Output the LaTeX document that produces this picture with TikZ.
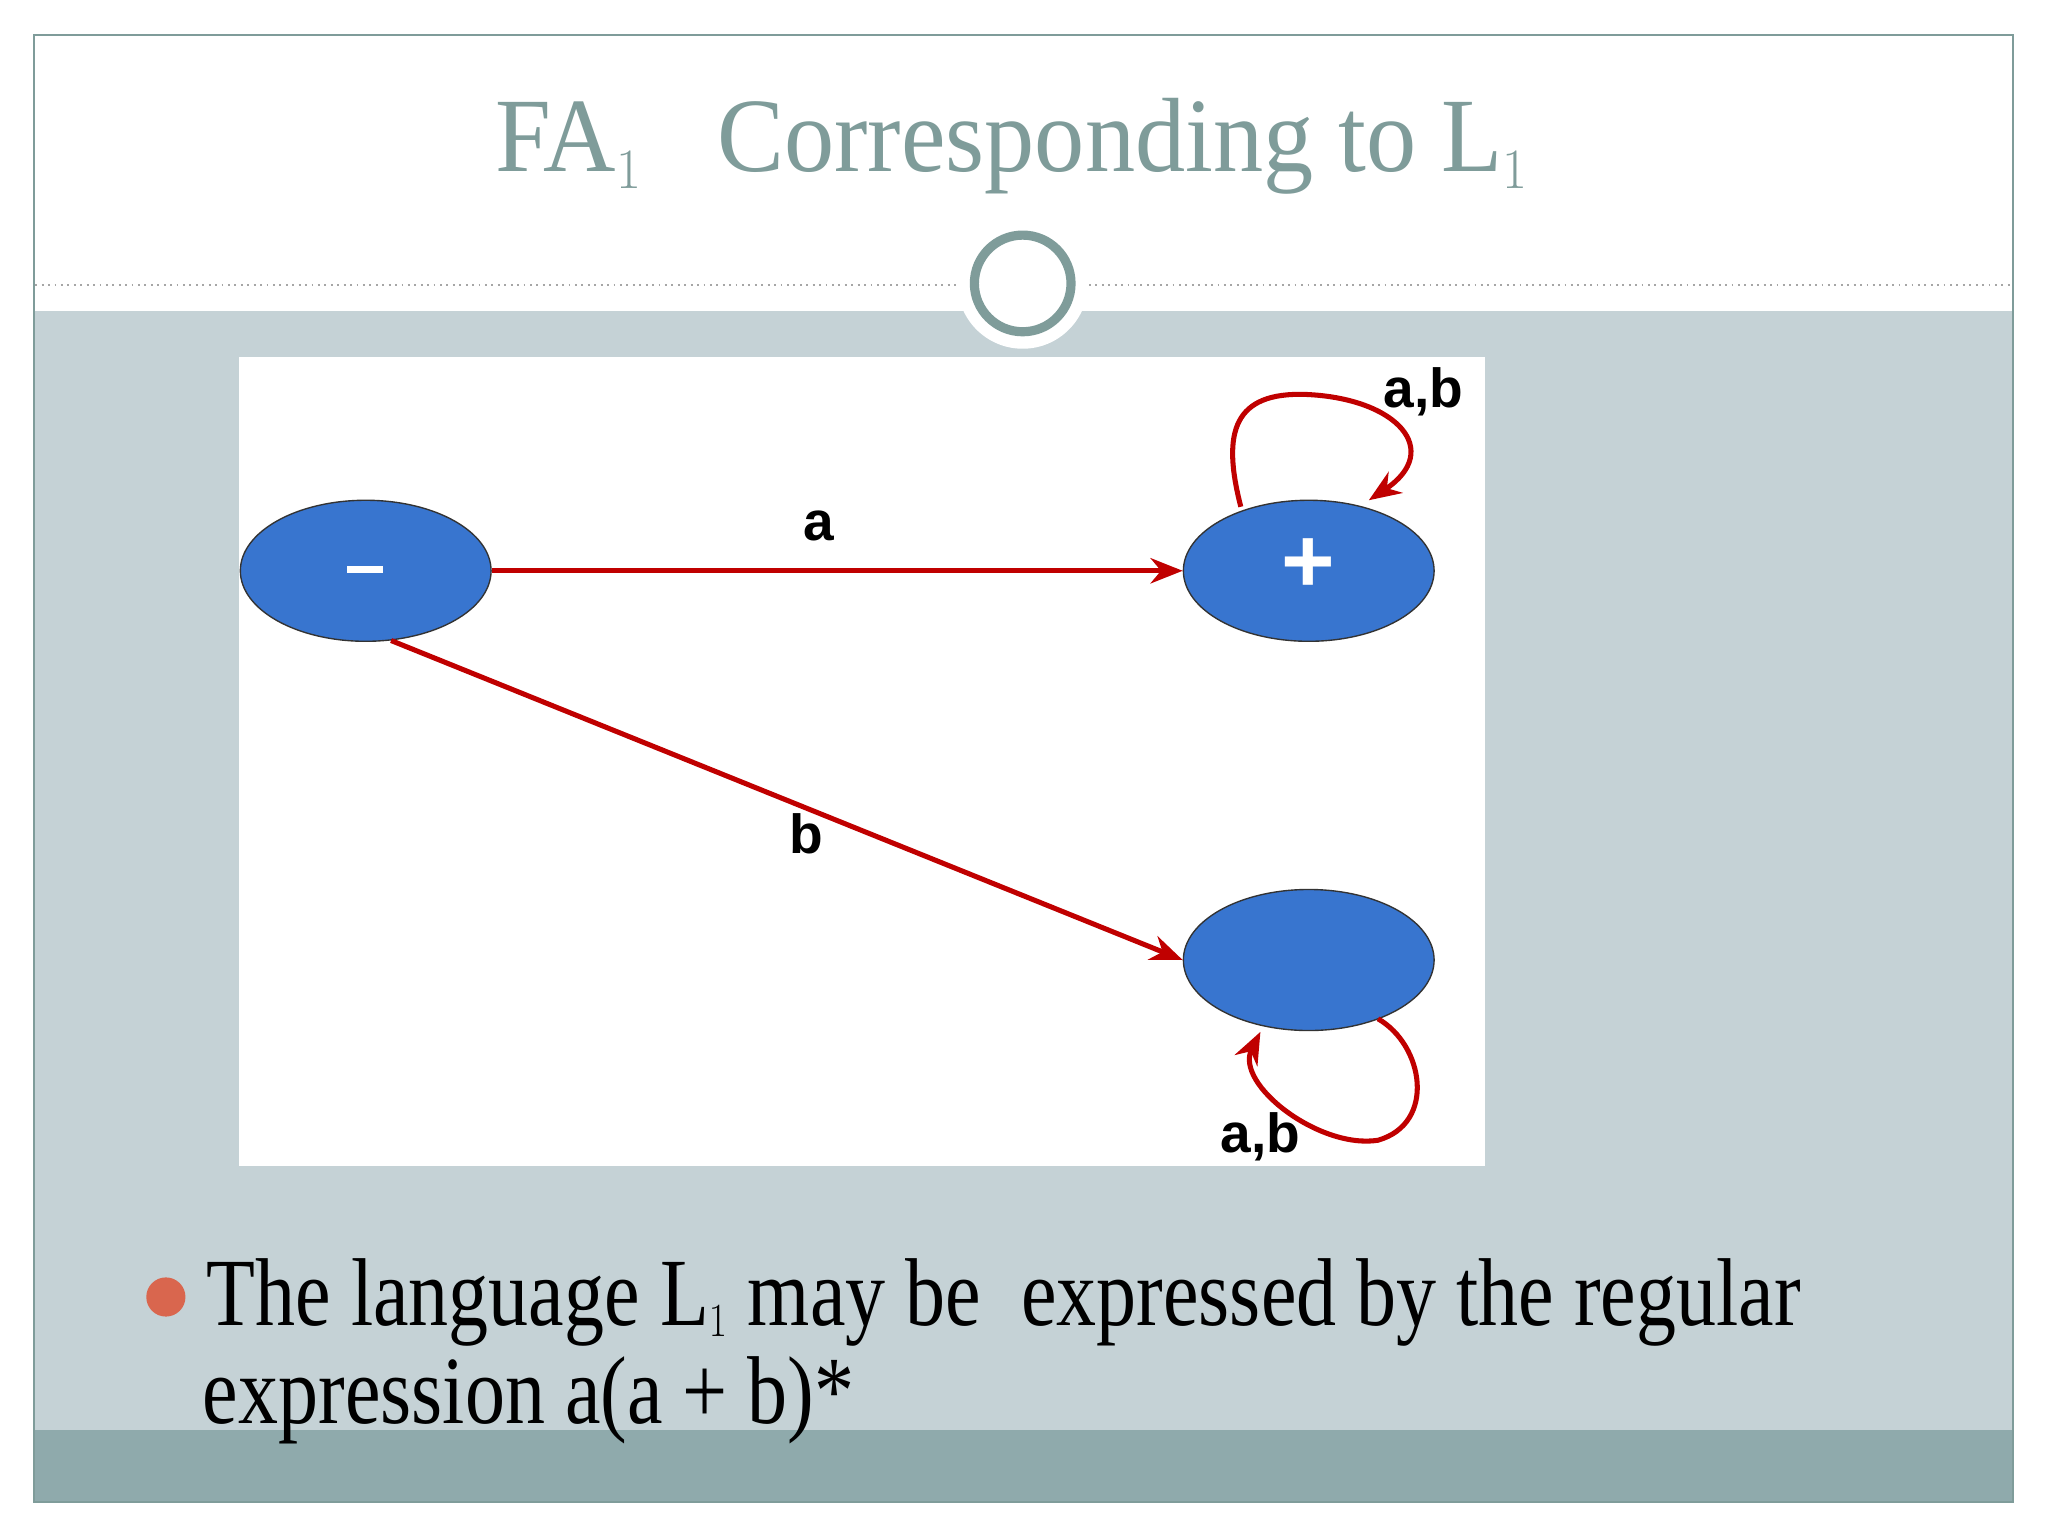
\documentclass[tikz,border=0pt]{standalone}
\usepackage{fontspec}
\setmainfont{Liberation Serif}
\newfontfamily\lblfont{Liberation Sans}
\usetikzlibrary{arrows.meta,shapes.geometric}
\definecolor{frame}{HTML}{7F9C9A}
\definecolor{panel}{HTML}{C5D2D6}
\definecolor{band}{HTML}{8FAAAC}
\definecolor{stblue}{HTML}{3875CF}
\definecolor{edgered}{HTML}{C00000}
\definecolor{bul}{HTML}{D9664E}
\tikzset{
 state/.style={ellipse, draw=black!80, line width=0.6pt, fill=stblue, minimum width=3.84cm, minimum height=2.16cm, inner sep=0pt},
 edge/.style={draw=edgered, line width=2.2pt, -{Stealth[length=14pt,width=11pt]}},
 lbl/.style={font=\lblfont\bfseries\fontsize{24}{26}\selectfont, inner sep=0pt},
 body/.style={anchor=base west, inner sep=0pt, font=\fontsize{42}{46}\selectfont},
}
\begin{document}
\begin{tikzpicture}[x=0.02cm,y=-0.02cm]
\useasboundingbox (0,0) rectangle (1568,1176);
\fill[white] (0,0) rectangle (1568,1176);
\fill[panel] (27,238) rectangle (1541,1095);
\fill[band] (27,1095) rectangle (1541,1150);
\draw[frame, line width=1pt] (26,27) rectangle (1541,1150);
\draw[gray!70, dotted, line width=0.8pt] (27,218) -- (1540,218);
\fill[white] (783,217) circle (50);
\draw[frame, line width=4pt, fill=white] (783,217) circle (37);
\node (title) [text=frame, font=\fontsize{46}{50}\selectfont, inner sep=0pt] at (775,112) {\scalebox{0.95}[1]{FA$_{\scriptscriptstyle 1}$\hspace{0.5em} Corresponding to L$_{\scriptscriptstyle 1}$}};
\fill[white] (183,273) rectangle (1137,893);
\node (s0) [state] at (280,437) {};
\node (s1) [state] at (1002,437) {};
\node (s2) [state] at (1002,735) {};
\fill[white] (266,433) rectangle (293,439);
\node [text=white, font=\lblfont\bfseries\fontsize{40}{42}\selectfont] at (1002,433) {+};
\draw[edge] (s0.east) -- (s1.west);
\node[lbl] at (627,403) {a};
\draw[edge] (s0.290) -- (s2.west);
\node[lbl] at (617,638) {b};
\draw[edge] (950,388) .. controls (935,330) and (945,300) .. (1000,302) .. controls (1070,305) and (1105,345) .. (1048,383);
\node[lbl] at (1090,300) {a,b};
\draw[edge] (1055,780) .. controls (1090,800) and (1100,860) .. (1055,873) .. controls (1010,880) and (945,830) .. (965,790);
\node[lbl] at (965,870) {a,b};
\fill[bul] (127,993) circle (15);
\node[body] at (158,1015) {\scalebox{0.83}[1]{The language L$_{\scriptscriptstyle 1}$ may be\ \ expressed by the regular}};
\node[body] at (155,1090) {\scalebox{0.83}[1]{expression a(a + b)*}};
\end{tikzpicture}
\end{document}
